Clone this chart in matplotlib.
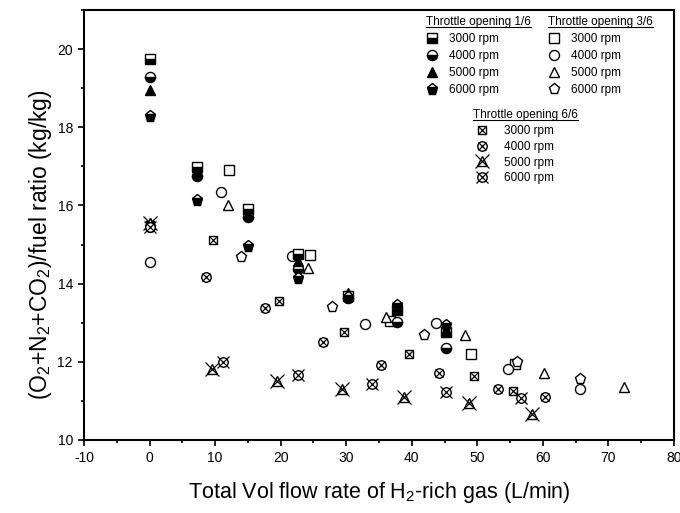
import matplotlib
matplotlib.use("Agg")
import matplotlib.pyplot as plt
from matplotlib.lines import Line2D
from matplotlib.ticker import MultipleLocator

plt.rcParams['font.family'] = ['Liberation Sans', 'DejaVu Sans']
plt.rcParams['mathtext.fontset'] = 'custom'
plt.rcParams['mathtext.rm'] = 'Liberation Sans'
plt.rcParams['mathtext.it'] = 'Liberation Sans:italic'
plt.rcParams['axes.unicode_minus'] = False

# ---------------- data ----------------
rpm_labels = ["3000 rpm", "4000 rpm", "5000 rpm", "6000 rpm"]
titles = ["Throttle opening 1/6", "Throttle opening 3/6", "Throttle opening 6/6"]

# Throttle opening 1/6
x16 = [0, 7.3, 15.0, 22.6, 30.2, 37.7, 45.2]
y16_3000 = [19.74, 16.99, 15.90, 14.76, 13.68, 13.32, 12.77]
y16_4000 = [19.28, 16.75, 15.70, 14.37, 13.64, 13.03, 12.36]
y16_5000 = [18.95, 16.86, 15.77, 14.58, 13.75, 13.40, 12.82]
y16_6000 = [18.29, 16.14, 14.96, 14.14, 13.66, 13.45, 12.94]

# Throttle opening 3/6
x36_3000 = [12.1, 24.4, 36.7, 49.0, 55.8]
y36_3000 = [16.90, 14.73, 13.05, 12.19, 11.95]
x36_4000 = [0, 10.9, 21.7, 32.8, 43.7, 54.7, 65.7]
y36_4000 = [14.56, 16.35, 14.71, 12.97, 13.00, 11.81, 11.30]
x36_5000 = [0, 11.9, 24.1, 36.1, 48.1, 60.2, 72.3]
y36_5000 = [15.55, 16.00, 14.39, 13.14, 12.69, 11.72, 11.36]
x36_6000 = [0, 14.0, 27.9, 41.9, 56.0, 65.7]
y36_6000 = [15.45, 14.69, 13.39, 12.69, 12.00, 11.56]

# Throttle opening 6/6
x66_3000 = [0, 9.7, 19.75, 29.7, 39.6, 49.5, 55.5]
y66_3000 = [15.50, 15.11, 13.56, 12.77, 12.20, 11.64, 11.25]
x66_4000 = [0, 8.6, 17.6, 26.5, 35.3, 44.2, 53.1, 60.3]
y66_4000 = [15.45, 14.18, 13.37, 12.50, 11.92, 11.72, 11.30, 11.09]
x66_5000 = [0, 9.6, 19.4, 29.3, 38.8, 48.8, 58.4]
y66_5000 = [15.55, 11.81, 11.52, 11.30, 11.09, 10.94, 10.66]
x66_6000 = [0, 11.26, 22.6, 33.9, 45.2, 56.7]
y66_6000 = [15.45, 11.99, 11.66, 11.42, 11.24, 11.07]

# ---------------- figure ----------------
fig = plt.figure(figsize=(6.8, 5.13), dpi=100)
ax = fig.add_axes([84/680, 1-440/513, 590/680, 430/513])

mew = 1.0

def half(ax, x, y, marker, size, fill='bottom'):
    return ax.plot(x, y, linestyle='none', marker=marker, markersize=size,
                   markeredgecolor='black', markeredgewidth=mew,
                   markerfacecolor='black', markerfacecoloralt='white',
                   fillstyle=fill)[0]

def opn(ax, x, y, marker, size):
    return ax.plot(x, y, linestyle='none', marker=marker, markersize=size,
                   markeredgecolor='black', markeredgewidth=mew,
                   markerfacecolor='white')[0]

def cross(ax, x, y, size):
    return ax.plot(x, y, linestyle='none', marker='x', markersize=size,
                   markeredgecolor='black', markeredgewidth=0.9)[0]

# 3/6 (open) first
h36 = [opn(ax, x36_3000, y36_3000, 's', 7),
       opn(ax, x36_4000, y36_4000, 'o', 7.2),
       opn(ax, x36_5000, y36_5000, '^', 7.8),
       opn(ax, x36_6000, y36_6000, 'p', 8)]

# 6/6 (crossed)
a1 = opn(ax, x66_3000, y66_3000, 's', 6.3); b1 = cross(ax, x66_3000, y66_3000, 5.2)
a2 = opn(ax, x66_4000, y66_4000, 'o', 6.8); b2 = cross(ax, x66_4000, y66_4000, 5.2)
a3 = opn(ax, x66_5000, y66_5000, '^', 6.8); b3 = cross(ax, x66_5000, y66_5000, 9.5)
a4 = opn(ax, x66_6000, y66_6000, 'o', 6.8); b4 = cross(ax, x66_6000, y66_6000, 8)
h66 = [(a1, b1), (a2, b2), (a3, b3), (a4, b4)]

# 1/6 (half filled)
h16 = [half(ax, x16, y16_3000, 's', 7),
       half(ax, x16, y16_4000, 'o', 7.3),
       half(ax, x16, y16_5000, '^', 7.8, 'full'),
       half(ax, x16, y16_6000, 'p', 8.2)]

ax.set_xlim(-10, 80)
ax.set_ylim(10, 21)
ax.xaxis.set_major_locator(MultipleLocator(10))
ax.xaxis.set_minor_locator(MultipleLocator(5))
ax.yaxis.set_major_locator(MultipleLocator(2))
ax.yaxis.set_minor_locator(MultipleLocator(1))
ax.tick_params(which='both', direction='out', top=False, right=False, labelsize=10, width=1.2)
ax.tick_params(which='major', length=4.5)
ax.tick_params(which='minor', length=2.5)
for s in ax.spines.values():
    s.set_linewidth(1.5)

ax.set_xlabel("Total Vol flow rate of H$_2$-rich gas (L/min)", fontsize=15.5, labelpad=11)
ax.set_ylabel("(O$_2$+N$_2$+CO$_2$)/fuel ratio (kg/kg)", fontsize=16.5, labelpad=6)
ax.yaxis.set_label_coords(-0.05, 0.455)

leg_kw = dict(frameon=False, fontsize=8.5, title_fontsize=8.5, handlelength=1.0,
              handletextpad=0.9, labelspacing=0.42, borderpad=0.2, alignment='left',
              bbox_transform=fig.transFigure, loc='upper left')
leg1 = ax.legend(h16, rpm_labels, title=titles[0],
                 bbox_to_anchor=(418/680, 1-8/513), **leg_kw)
ax.add_artist(leg1)
leg2 = ax.legend(h36, rpm_labels, title=titles[1],
                 bbox_to_anchor=(540/680, 1-8/513), **leg_kw)
ax.add_artist(leg2)
kw3 = dict(leg_kw)
kw3.update(handlelength=1.5, handletextpad=1.1, labelspacing=0.32)
leg3 = ax.legend(h66, rpm_labels, title=titles[2],
                 bbox_to_anchor=(465/680, 1-101/513), **kw3)

fig.canvas.draw()
r = fig.canvas.get_renderer()
W, H = fig.bbox.width, fig.bbox.height
for lg in (leg1, leg2, leg3):
    bb = lg.get_title().get_window_extent(r)
    yy = (bb.y0 + 1) / H
    fig.add_artist(Line2D([bb.x0 / W, bb.x1 / W], [yy, yy], color='black', lw=0.8,
                          transform=fig.transFigure))

fig.savefig("out.png", dpi=100)
